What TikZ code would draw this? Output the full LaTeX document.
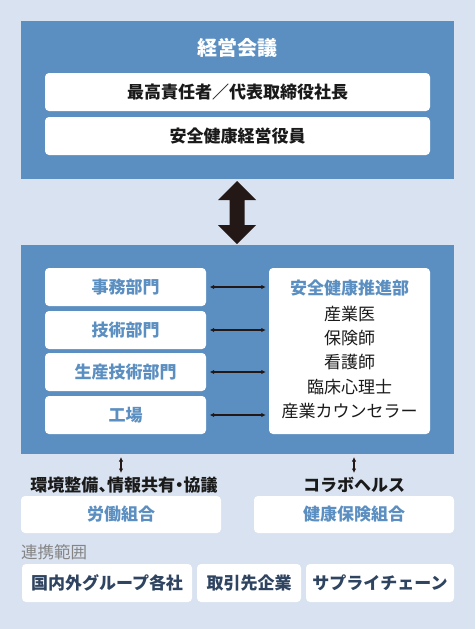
\documentclass[tikz,border=0pt]{standalone}
\usepackage{fontspec}
\setmainfont{Noto Sans CJK JP}
\usetikzlibrary{arrows.meta}
\definecolor{bg}{HTML}{D9E2F0}
\definecolor{bluebox}{HTML}{5B8FC1}
\definecolor{bluetext}{HTML}{5B8FC1}
\definecolor{navy}{HTML}{2E4461}
\definecolor{graytext}{HTML}{858585}
\definecolor{ink}{HTML}{1A1A1A}
\definecolor{arrowc}{HTML}{231815}
\tikzset{
  panel/.style={fill=bluebox, draw=none, inner sep=0pt},
  wbox/.style={fill=white, draw=none, rounded corners=4pt, inner sep=0pt, font=\fontsize{17}{20}\selectfont\bfseries, text height=1.2em, text depth=0em},
  blk/.style={wbox, text=ink},
  blu/.style={wbox, text=bluetext},
  nav/.style={wbox, text=navy},
  txt/.style={inner sep=0pt, font=\fontsize{17}{20}\selectfont, text height=1.2em, text depth=0em},
  sarrow/.style={draw=arrowc, line width=1.3pt, {Latex[length=4.5pt,width=4.5pt]}-{Latex[length=4.5pt,width=4.5pt]}},
}
\begin{document}
\begin{tikzpicture}[x=1pt,y=-1pt]
\fill[bg] (0,0) rectangle (475,629);
\useasboundingbox (0,0) rectangle (475,629);
% top panel
\node[panel, minimum width=433pt, minimum height=158pt] (top) at (237.5,100) {};
\node[txt, text=white, font=\fontsize{20}{24}\selectfont\bfseries] (title) at (237.5,49) {経営会議};
\node[blk, minimum width=385pt, minimum height=38pt] (ceo) at (237.5,92) {最高責任者／代表取締役社長};
\node[blk, minimum width=385pt, minimum height=38pt] (exec) at (237.5,136) {安全健康経営役員};
% big double arrow
\coordinate (up) at (237,181);
\coordinate (dn) at (237,244);
\fill[arrowc] (up) -- ++(19,19) -- ++(-11.5,0) -- ++(0,25) -- ++(11.5,0) -- (dn) -- ++(-19,-19) -- ++(11.5,0) -- ++(0,-25) -- ++(-11.5,0) -- cycle;
% second panel
\node[panel, minimum width=433pt, minimum height=209pt] (mid) at (237.5,349.5) {};
\node[blu, minimum width=161pt, minimum height=38pt] (d1) at (125.5,287) {事務部門};
\node[blu, minimum width=161pt, minimum height=38pt] (d2) at (125.5,330) {技術部門};
\node[blu, minimum width=161pt, minimum height=38pt] (d3) at (125.5,372) {生産技術部門};
\node[blu, minimum width=161pt, minimum height=38pt] (d4) at (125.5,415) {工場};
\node[wbox, minimum width=161pt, minimum height=166pt] (prom) at (349.5,351) {};
\node[txt, text=bluetext, font=\fontsize{17}{20}\selectfont\bfseries] (promt) at (349.5,288) {安全健康推進部};
\node[txt, text=ink] (r1) at (349.5,314) {産業医};
\node[txt, text=ink] (r2) at (349.5,338) {保険師};
\node[txt, text=ink] (r3) at (349.5,362) {看護師};
\node[txt, text=ink] (r4) at (349.5,387) {臨床心理士};
\node[txt, text=ink] (r5) at (349.5,411) {産業カウンセラー};
\foreach \d in {d1,d2,d3,d4}{
  \draw[sarrow, shorten <=3.5pt, shorten >=3pt] (\d.east) -- (\d.east -| prom.west);
}
% lower part
\coordinate (v1a) at (121,457);
\coordinate (v1b) at (121,473);
\coordinate (v2a) at (354,457);
\coordinate (v2b) at (354,473);
\draw[sarrow, line width=1.1pt] (v1a) -- (v1b);
\draw[sarrow, line width=1.1pt] (v2a) -- (v2b);
\node[txt, text=ink, font=\fontsize{17}{20}\selectfont\bfseries] (l1) at (124,485) {環境整備\makebox[0.5em][l]{、}情報共有\makebox[0.5em][c]{・}協議};
\node[txt, text=ink, font=\fontsize{17}{20}\selectfont\bfseries] (l2) at (354,485) {コラボヘルス};
\node[blu, minimum width=200pt, minimum height=37pt] (rou) at (121,514.5) {労働組合};
\node[blu, minimum width=200pt, minimum height=37pt] (ken) at (354,514.5) {健康保険組合};
\node[txt, text=graytext, anchor=west, font=\fontsize{16.5}{20}\selectfont] (scope) at (21,552) {連携範囲};
\node[nav, minimum width=170pt, minimum height=38pt] (b1) at (107,583) {国内外グループ各社};
\node[nav, minimum width=104pt, minimum height=38pt] (b2) at (249,583) {取引先企業};
\node[nav, minimum width=148pt, minimum height=38pt] (b3) at (380,583) {サプライチェーン};
\end{tikzpicture}
\end{document}
